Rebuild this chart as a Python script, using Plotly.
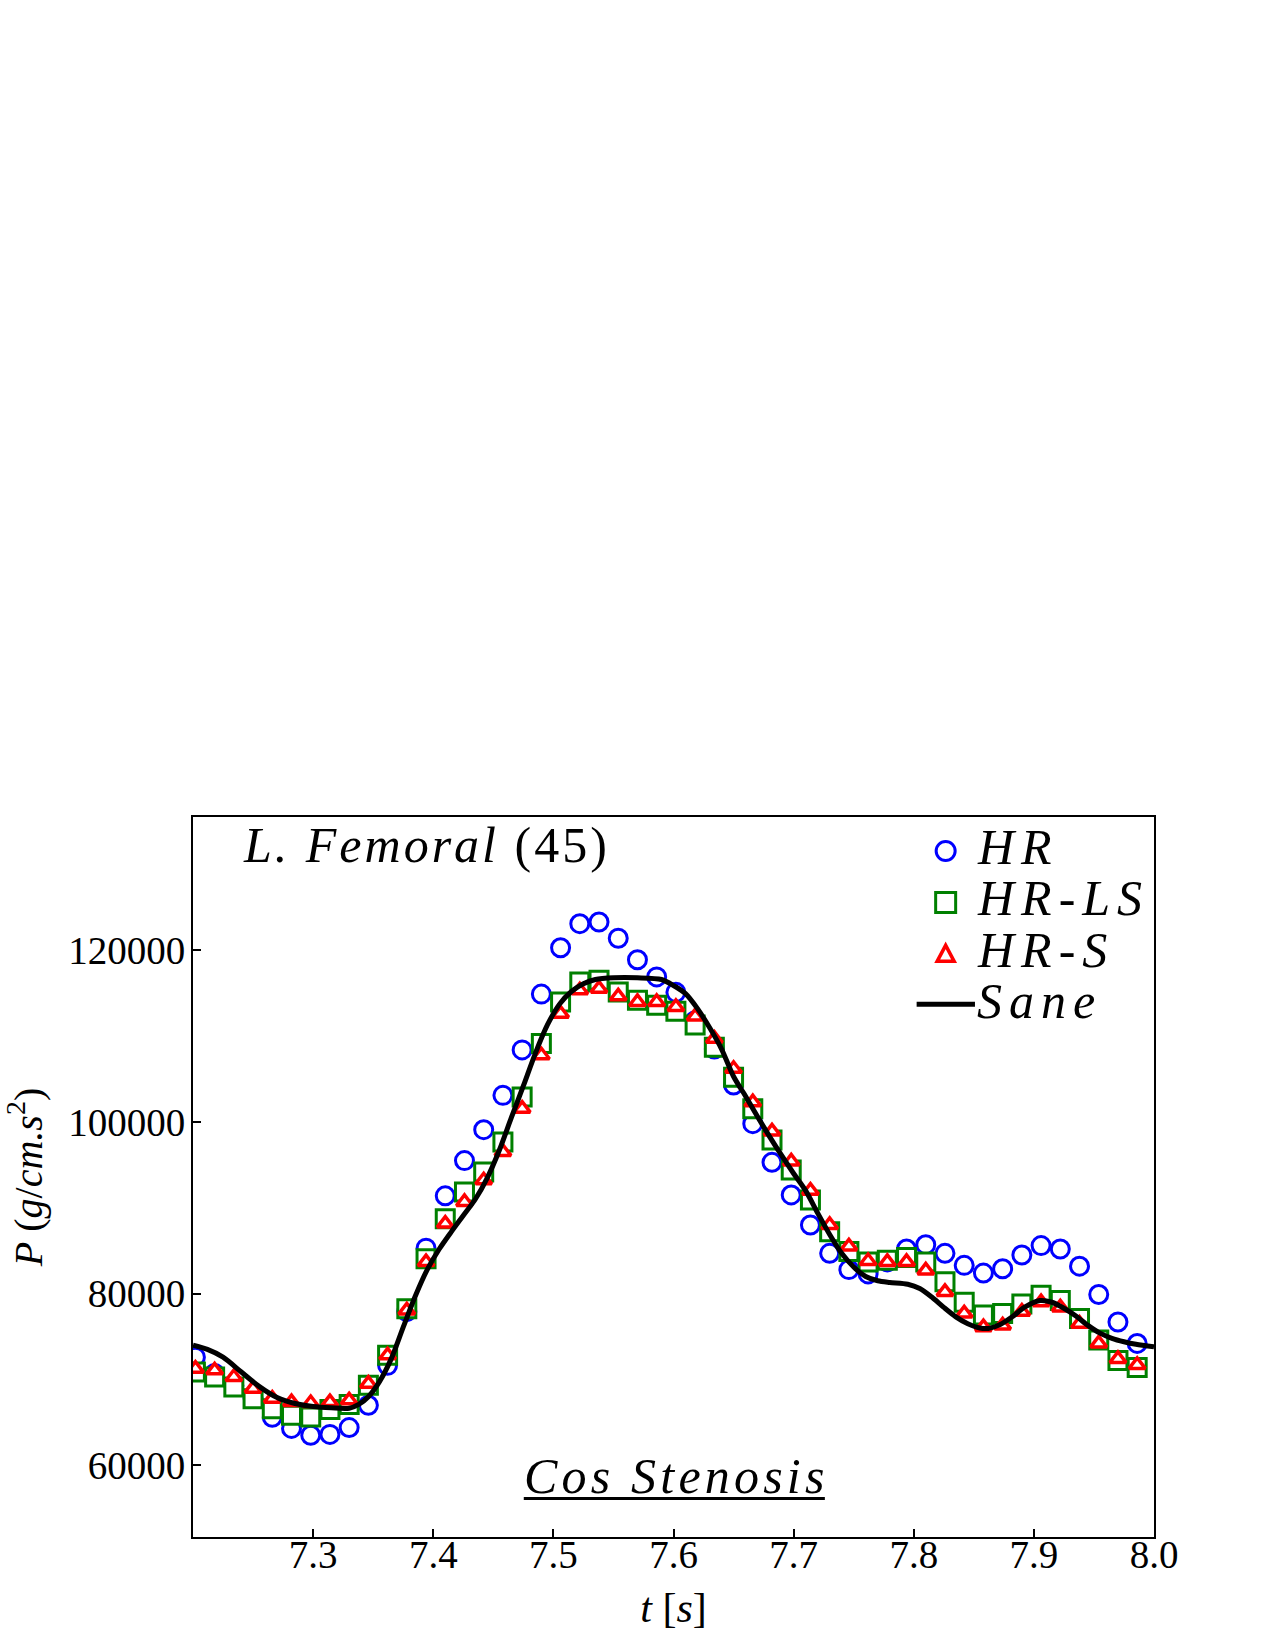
import plotly.graph_objects as go

# ---- data ----
t_markers = [7.202, 7.218, 7.234, 7.250, 7.266, 7.282, 7.298, 7.314, 7.330, 7.346,
             7.362, 7.378, 7.394, 7.410, 7.426, 7.442, 7.458, 7.474, 7.490, 7.506,
             7.522, 7.538, 7.554, 7.570, 7.586, 7.602, 7.618, 7.634, 7.650, 7.666,
             7.682, 7.698, 7.714, 7.730, 7.746, 7.762, 7.778, 7.794, 7.810, 7.826,
             7.842, 7.858, 7.874, 7.890, 7.906, 7.922, 7.938, 7.954, 7.970, 7.986]

hr = [72600, 70700, 69300, 67800, 65600, 64300, 63500, 63600, 64400, 67000,
      71650, 77900, 85300, 91400, 95500, 99100, 103100, 108400, 114900, 120300,
      123100, 123300, 121400, 118900, 116900, 115100, 111800, 108500, 104300, 99800,
      95300, 91500, 88000, 84700, 82800, 82300, 83700, 85200, 85700, 84700,
      83300, 82400, 82900, 84500, 85600, 85200, 83200, 79900, 76700, 74200]

hr_ls = [70870, 70290, 69120, 67770, 66600, 65820, 65630, 66490, 67100, 69320,
         72810, 78250, 84070, 88740, 91850, 94180, 97670, 102910, 109130, 113980,
         116310, 116505, 115140, 114175, 113590, 112900, 111300, 108700, 105200, 101550,
         97900, 94400, 90900, 87200, 84900, 83700, 83900, 84200, 83700, 81400,
         79000, 77500, 77700, 78800, 79800, 79200, 77100, 74600, 72200, 71400]

hr_s = [71260, 71065, 70290, 68930, 67770, 67370, 67255, 67370, 67570, 69515,
        72810, 78050, 83680, 88160, 90680, 93205, 96510, 101555, 107770, 112620,
        115340, 115530, 114640, 113980, 113980, 113400, 112300, 109700, 106200, 102300,
        98900, 95400, 92000, 88000, 85500, 83800, 83700, 83700, 82700, 80200,
        77700, 76100, 76300, 77900, 79000, 78400, 76500, 74200, 72400, 71700]

t_sane = [7.200, 7.212, 7.225, 7.240, 7.255, 7.270, 7.285, 7.300, 7.315, 7.330,
          7.338, 7.346, 7.355, 7.365, 7.375, 7.385, 7.395, 7.405, 7.415, 7.425,
          7.435, 7.445, 7.455, 7.465, 7.475, 7.485, 7.495, 7.505, 7.515, 7.525,
          7.535, 7.550, 7.570, 7.590, 7.600, 7.610, 7.620, 7.630, 7.640, 7.650,
          7.660, 7.670, 7.680, 7.690, 7.700, 7.710, 7.720, 7.730, 7.740, 7.750,
          7.760, 7.770, 7.780, 7.795, 7.805, 7.815, 7.825, 7.835, 7.845, 7.855,
          7.862, 7.872, 7.882, 7.892, 7.905, 7.915, 7.925, 7.935, 7.945, 7.955,
          7.965, 7.975, 7.985, 8.000]
sane = [74000, 73500, 72600, 70900, 69200, 67900, 67200, 66850, 66700, 66650,
        67100, 68000, 69700, 72400, 76100, 79700, 82800, 85200, 87200, 89100,
        91000, 93500, 96700, 100500, 104200, 108000, 111300, 113700, 115200, 116100,
        116600, 116800, 116800, 116600, 115900, 114950, 113200, 111000, 108500, 105300,
        103000, 100600, 98300, 96100, 94000, 92000, 89400, 86900, 84700, 83100,
        82000, 81500, 81300, 81100, 80600, 79600, 78400, 77300, 76500, 76000,
        75950, 76400, 77300, 78400, 79200, 79000, 78300, 77400, 76300, 75400,
        74800, 74400, 74100, 73800]

x_ticks = [7.3, 7.4, 7.5, 7.6, 7.7, 7.8, 7.9, 8.0]
y_ticks = [60000, 80000, 100000, 120000]
series_names = ["HR", "HR-LS", "HR-S", "Sane"]

FONT = "Liberation Serif"


def spaced(txt, px):
    return '<span style="letter-spacing:%.1fpx">%s</span>' % (px, txt)


fig = go.Figure()
fig.add_trace(go.Scatter(x=t_markers, y=hr, mode="markers", name=series_names[0],
                         marker=dict(symbol="circle", size=18, color="white",
                                     line=dict(width=3, color="#0000ff"))))
fig.add_trace(go.Scatter(x=t_markers, y=hr_ls, mode="markers", name=series_names[1],
                         marker=dict(symbol="square", size=18, color="white",
                                     line=dict(width=3, color="#008000"))))
fig.add_trace(go.Scatter(x=t_markers, y=hr_s, mode="markers", name=series_names[2],
                         marker=dict(symbol="triangle-up", size=14, color="white",
                                     line=dict(width=3.5, color="#ff0000"))))
fig.add_trace(go.Scatter(x=t_sane, y=sane, mode="lines", name=series_names[3],
                         line=dict(color="black", width=5, shape="spline", smoothing=0.8)))

# ---- custom legend (glyphs as layout shapes, labels as text) ----
shapes = []
leg_x = 0.7832
leg_y = [0.9528, 0.8811, 0.8093, 0.7399]
shapes.append(dict(type="circle", xref="paper", yref="paper", xsizemode="pixel", ysizemode="pixel",
                   xanchor=leg_x, yanchor=leg_y[0], x0=-9.5, x1=9.5, y0=-9.5, y1=9.5,
                   line=dict(color="#0000ff", width=3), fillcolor="white"))
shapes.append(dict(type="rect", xref="paper", yref="paper", xsizemode="pixel", ysizemode="pixel",
                   xanchor=leg_x, yanchor=leg_y[1], x0=-10, x1=10, y0=-10, y1=10,
                   line=dict(color="#008000", width=3), fillcolor="white"))
shapes.append(dict(type="path", xref="paper", yref="paper", xsizemode="pixel", ysizemode="pixel",
                   xanchor=leg_x, yanchor=leg_y[2], path="M-8.5,-7 L8.5,-7 L0,9 Z",
                   line=dict(color="#ff0000", width=3.5), fillcolor="white"))
shapes.append(dict(type="line", xref="paper", yref="paper", x0=0.7530, x1=0.8137,
                   y0=leg_y[3], y1=leg_y[3], line=dict(color="black", width=5)))
# underline of "Cos Stenosis"
shapes.append(dict(type="line", xref="paper", yref="paper", x0=0.3442, x1=0.6575,
                   y0=0.0533, y1=0.0533, line=dict(color="black", width=3)))

annotations = []
lab_y = [0.9578, 0.8869, 0.8154, 0.7439]
for name, yy in zip(series_names, lab_y):
    annotations.append(dict(text="<i>%s</i>" % spaced(name, 7), xref="paper", yref="paper",
                            x=0.8137, y=yy, xanchor="left", yanchor="middle", showarrow=False,
                            font=dict(family=FONT, size=50, color="black")))
annotations.append(dict(text=spaced("<i>L. Femoral</i> (45)", 3), xref="paper", yref="paper",
                        x=0.0497, y=0.9607, xanchor="left", yanchor="middle", showarrow=False,
                        font=dict(family=FONT, size=50, color="black")))
annotations.append(dict(text="<i>%s</i>" % spaced("Cos Stenosis", 4.2), xref="paper", yref="paper",
                        x=0.3420, y=0.0843, xanchor="left", yanchor="middle", showarrow=False,
                        font=dict(family=FONT, size=50, color="black")))

fig.update_layout(
    width=1275, height=1650,
    margin=dict(l=193, r=121, t=817, b=113),
    paper_bgcolor="white", plot_bgcolor="white",
    showlegend=False,
    shapes=shapes, annotations=annotations,
    font=dict(family=FONT, color="black", size=39),
)
fig.update_xaxes(range=[7.2, 8.0], tickvals=x_ticks, ticktext=["%.1f" % v for v in x_ticks],
                 showgrid=False, zeroline=False, showline=True, linecolor="black", linewidth=2,
                 mirror=True, ticks="inside", ticklen=8, tickwidth=1.5, tickcolor="black",
                 tickfont=dict(family=FONT, size=39), ticklabelstandoff=-18,
                 title=dict(text="<i>t</i> [<i>s</i>]", font=dict(family=FONT, size=42), standoff=18))
fig.update_yaxes(range=[51650, 135530], tickvals=y_ticks, tickformat="d",
                 showgrid=False, zeroline=False, showline=True, linecolor="black", linewidth=2,
                 mirror=True, ticks="inside", ticklen=8, tickwidth=1.5, tickcolor="black",
                 tickfont=dict(family=FONT, size=39), ticklabelstandoff=-2,
                 title=dict(text="<i>P</i> (<i>g</i>/<i>cm.s</i><sup>2</sup>)",
                            font=dict(family=FONT, size=40), standoff=14))

fig.write_html("out.html")
